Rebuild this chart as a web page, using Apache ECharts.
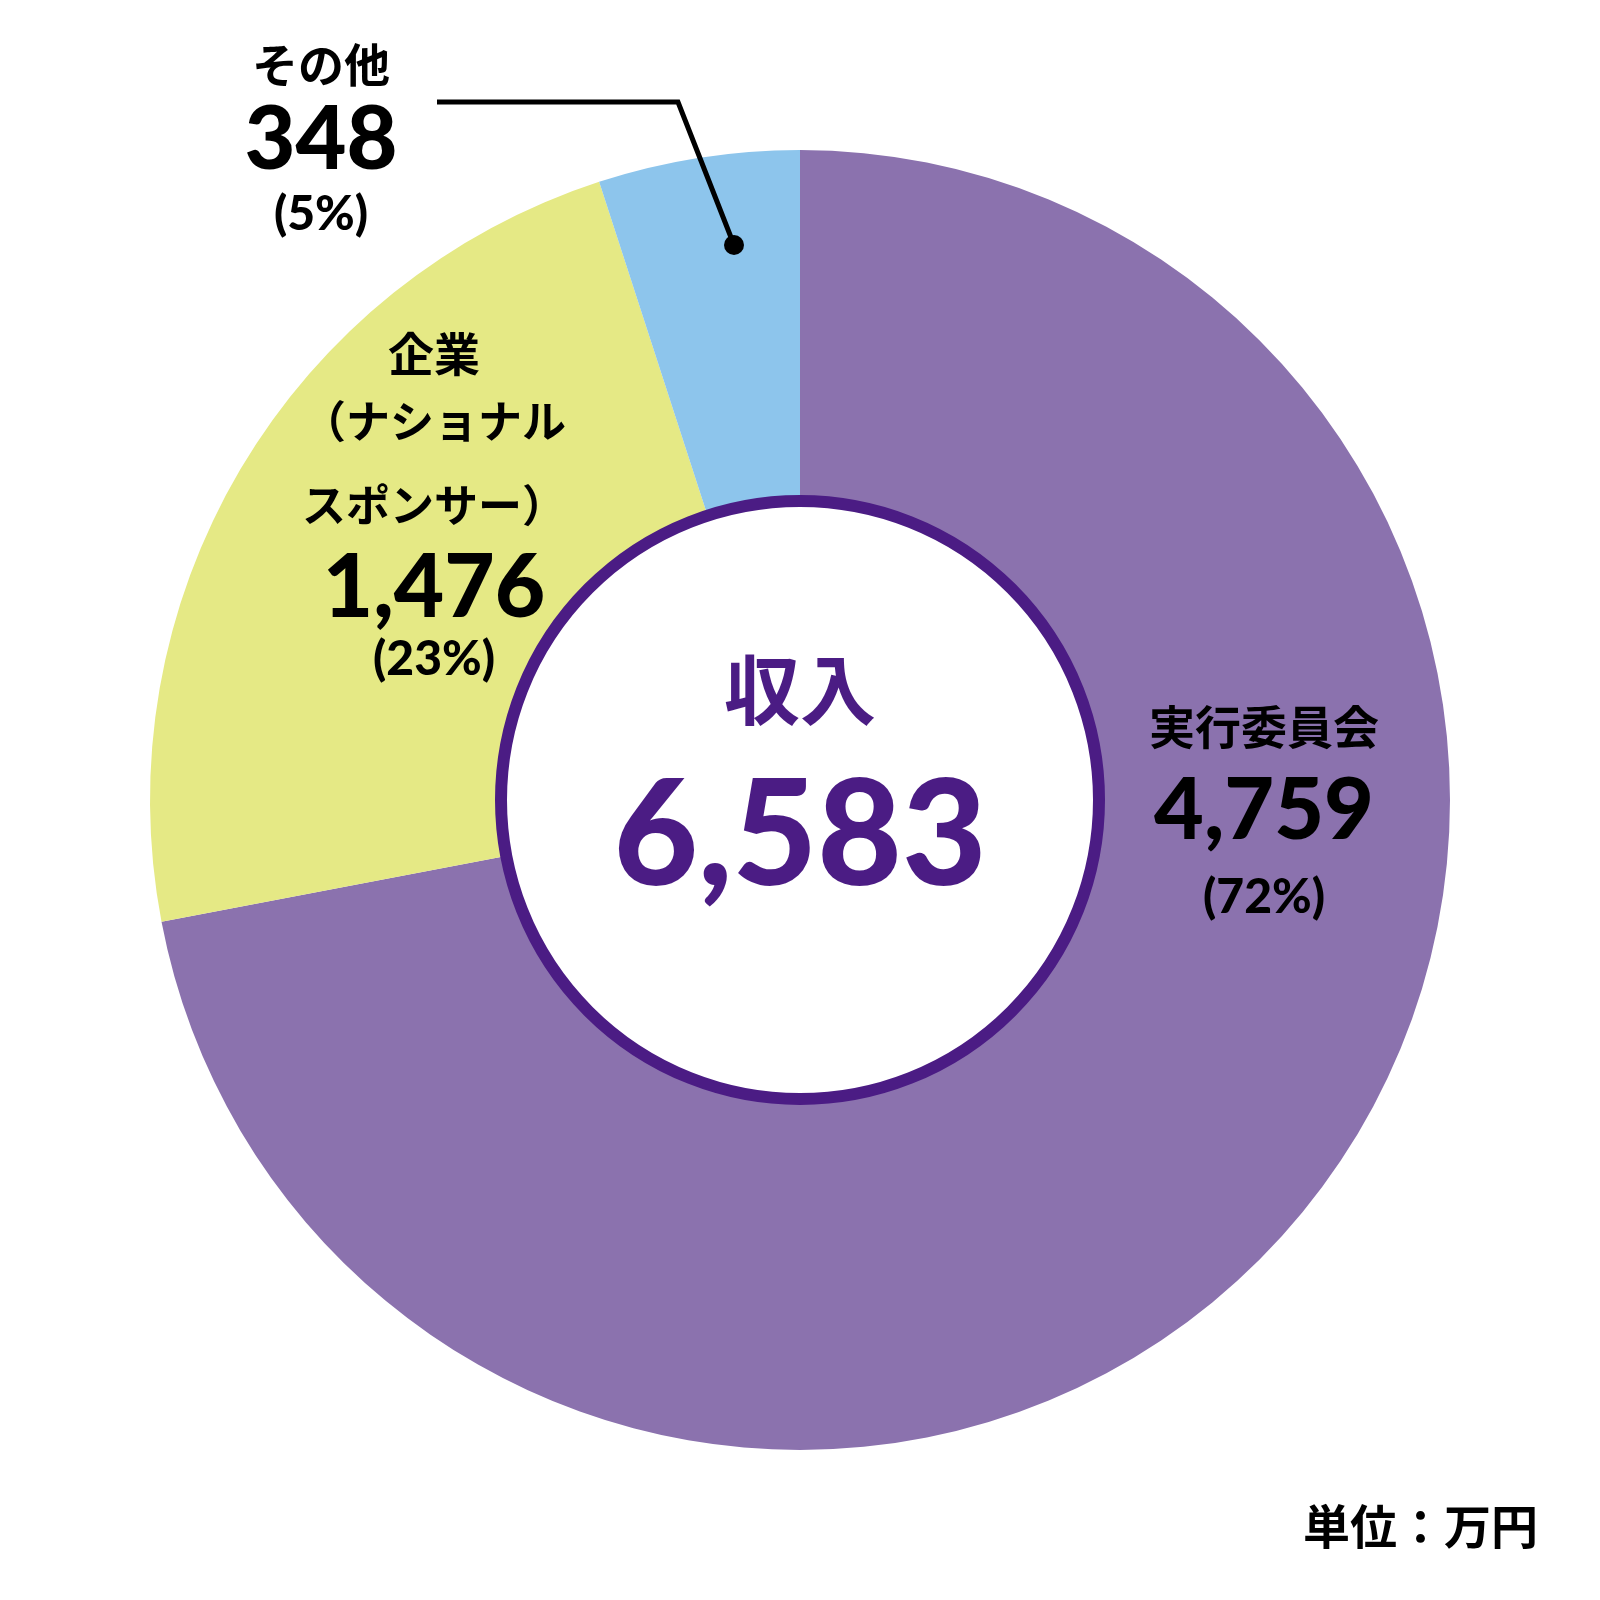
<!DOCTYPE html>
<html>
<head>
<meta charset="utf-8">
<script src="https://cdn.jsdelivr.net/npm/echarts@6/dist/echarts.min.js"></script>
<style>html,body{margin:0;padding:0;background:#fff}#c{width:1600px;height:1600px}</style>
</head>
<body>
<div id="c"></div>
<script>
// ---- data ----
const categories = ['実行委員会', '企業（ナショナルスポンサー）', 'その他'];
const categoryLines = [['実行委員会'], ['企業', '（ナショナル', 'スポンサー）'], ['その他']];
const values = [4759, 1476, 348];          // 万円
const percentShares = [72, 23, 5];         // slice sizes as drawn (%)
const percentLabels = ['72%', '23%', '5%'];
const centerTitle = '収入';
const unitLabel = '単位：万円';

// ---- styles / layout ----
const colors = ['#8B72AE', '#E5E985', '#8DC5EC'];
const dark = '#4B1C84';
const FF = "Lato, 'Noto Sans CJK JP', sans-serif";
const JF = "'Noto Sans CJK JP', sans-serif";
const labelPos = [[1264, 814], [434, 509], [321, 139]];
const leader = [[734, 245], [678, 102], [437, 102]];

const total = values.reduce((a, b) => a + b, 0);
const fmt = v => v.toLocaleString('en-US');

function labelText(i) {
  const L = categoryLines[i];
  if (i === 0) return `{n|${L[0]}}\n{v|${fmt(values[i])}}\n{p|(${percentLabels[i]})}`;
  if (i === 1) return `{a|${L[0]}}\n{b|${L[1]}}\n{b|${L[2]}}\n{v2|${fmt(values[i])}}\n{p2|(${percentLabels[i]})}`;
  return `{n3|${L[0]}}\n{v3|${fmt(values[i])}}\n{p3|(${percentLabels[i]})}`;
}

const PW = 900, PS = 48;
const rich = {
  n: {fontFamily: JF, fontWeight: 'bold', fontSize: 46, lineHeight: 76, color: '#000'},
  v: {fontFamily: FF, fontWeight: 900, fontSize: 86, lineHeight: 92, color: '#000'},
  p: {fontFamily: FF, fontWeight: PW, fontSize: PS, lineHeight: 82, color: '#000'},
  a: {fontFamily: JF, fontWeight: 'bold', fontSize: 46, lineHeight: 50, color: '#000'},
  b: {fontFamily: JF, fontWeight: 'bold', fontSize: 44, lineHeight: 84, color: '#000'},
  v2: {fontFamily: FF, fontWeight: 900, fontSize: 87, lineHeight: 84, color: '#000'},
  p2: {fontFamily: FF, fontWeight: PW, fontSize: PS, lineHeight: 58, color: '#000'},
  n3: {fontFamily: JF, fontWeight: 'bold', fontSize: 46, lineHeight: 70, color: '#000'},
  v3: {fontFamily: FF, fontWeight: 900, fontSize: 88, lineHeight: 82, color: '#000'},
  p3: {fontFamily: FF, fontWeight: PW, fontSize: PS, lineHeight: 66, color: '#000'}
};

const chart = echarts.init(document.getElementById('c'), null, {renderer: 'canvas'});
chart.setOption({
  animation: false,
  backgroundColor: '#fff',
  title: {
    text: unitLabel, right: 62, top: 1501, padding: 0,
    textStyle: {fontFamily: JF, fontWeight: 'bold', fontSize: 47, lineHeight: 50, color: '#000'}
  },
  series: [
    {
      type: 'pie',
      center: [800, 800],
      radius: [290, 650],
      startAngle: 90,
      clockwise: true,
      avoidLabelOverlap: false,
      silent: true,
      emphasis: {disabled: true},
      itemStyle: {borderWidth: 0},
      labelLine: {show: false},
      data: percentShares.map((v, i) => ({
        value: v,
        name: categories[i],
        itemStyle: {color: colors[i]},
        label: {show: true, position: 'inside', formatter: labelText(i), rich: rich, align: 'center'}
      })),
      labelLayout: function (p) {
        const i = p.dataIndex;
        return {x: labelPos[i][0], y: labelPos[i][1], align: 'center', verticalAlign: 'middle', moveOverlap: false};
      }
    },
    {
      type: 'pie',
      center: [800, 800],
      radius: [0, 299],
      silent: true,
      z: 5,
      emphasis: {disabled: true},
      labelLine: {show: false},
      itemStyle: {color: '#fff', borderColor: dark, borderWidth: 12},
      label: {
        show: true, position: 'center',
        formatter: `{t|${centerTitle}}\n{s|${fmt(total)}}`,
        rich: {
          t: {fontFamily: JF, fontWeight: 'bold', fontSize: 76, lineHeight: 110, color: dark},
          s: {fontFamily: FF, fontWeight: 900, fontSize: 146, lineHeight: 186, color: dark}
        }
      },
      labelLayout: {dy: -17},
      data: [{value: total, name: centerTitle}]
    }
  ],
  graphic: [
    {type: 'polyline', shape: {points: leader}, style: {stroke: '#000', lineWidth: 5, fill: null, lineJoin: 'miter'}, z: 10},
    {type: 'circle', shape: {cx: leader[0][0], cy: leader[0][1], r: 10}, style: {fill: '#000'}, z: 11}
  ]
});
</script>
</body>
</html>
